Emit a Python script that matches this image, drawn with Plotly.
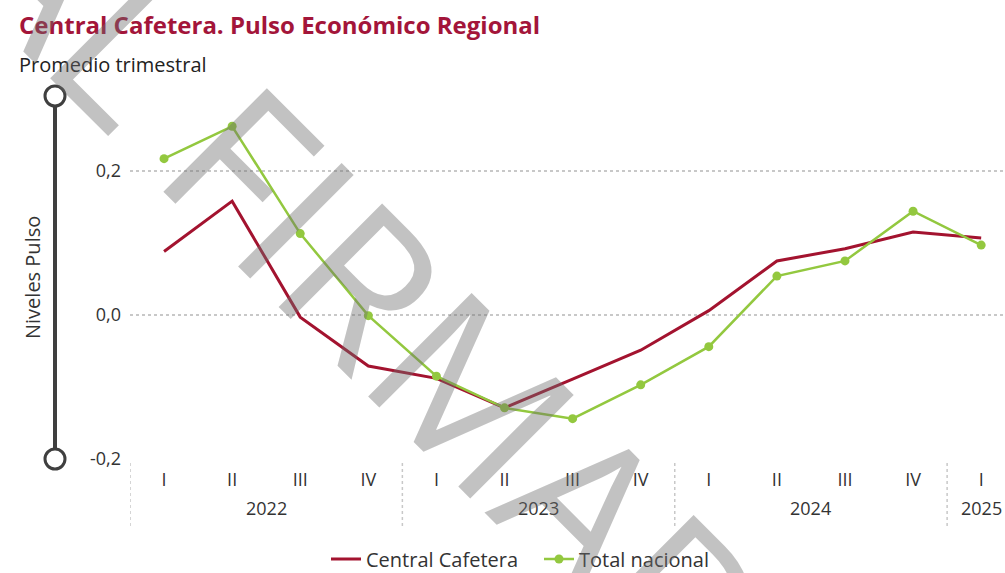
import plotly.graph_objects as go

quarters = ["I", "II", "III", "IV", "I", "II", "III", "IV", "I", "II", "III", "IV", "I"]
years = ["2022", "2023", "2024", "2025"]
year_centers = [1.5, 5.5, 9.5, 12]
year_dividers = [-0.5, 3.5, 7.5, 11.5]
central_cafetera = [0.088, 0.158, -0.003, -0.071, -0.088, -0.129, -0.089, -0.049, 0.006, 0.075, 0.092, 0.115, 0.107]
total_nacional = [0.217, 0.262, 0.113, -0.001, -0.085, -0.129, -0.144, -0.097, -0.044, 0.054, 0.075, 0.144, 0.097]
y_ticks = [-0.2, 0.0, 0.2]
y_tick_text = ["-0,2", "0,0", "0,2"]

RED = "#A3132F"
GREEN = "#93C83F"
TXT = "#333333"
FONT = "Open Sans, sans-serif"

W, H = 1005, 573
L, R, T, B = 130, 0, 96, 114
PW, PH = W - L - R, H - T - B


def px(xp):
    return (xp - L) / PW


def py(yp):
    return (H - B - yp) / PH


xs = list(range(len(quarters)))

fig = go.Figure()
fig.add_trace(go.Scatter(x=xs, y=central_cafetera, name="Central Cafetera", mode="lines",
                         line=dict(color=RED, width=3)))
fig.add_trace(go.Scatter(x=xs, y=total_nacional, name="Total nacional", mode="lines+markers",
                         line=dict(color=GREEN, width=2.5), marker=dict(color=GREEN, size=9)))

shapes = []
shapes.append(dict(type="line", xref="paper", yref="paper", x0=px(55), x1=px(55), y0=0, y1=1,
                   line=dict(color="#3f3f3f", width=4), layer="above"))
for yc in (0, 1):
    shapes.append(dict(type="circle", xref="paper", yref="paper",
                       x0=px(45), x1=px(65), y0=yc - 10 / PH, y1=yc + 10 / PH,
                       fillcolor="white", line=dict(color="#3f3f3f", width=3), layer="above"))
for xd in year_dividers:
    shapes.append(dict(type="line", xref="x", yref="paper", x0=xd, x1=xd, y0=py(463), y1=py(527),
                       line=dict(color="#c8c8c8", width=1.5, dash="dot")))

annotations = []
for yl, xc in zip(years, year_centers):
    annotations.append(dict(x=xc, y=py(508), xref="x", yref="paper", text=yl, showarrow=False,
                            font=dict(family=FONT, size=18, color=TXT), xanchor="center", yanchor="middle"))
annotations.append(dict(x=px(17), y=py(24), xref="paper", yref="paper", xanchor="left", yanchor="middle",
                        text="<b>Central Cafetera. Pulso Económico Regional</b>", showarrow=False,
                        font=dict(family=FONT, size=24, color="#A3153A")))
annotations.append(dict(x=px(17), y=py(64), xref="paper", yref="paper", xanchor="left", yanchor="middle",
                        text="Promedio trimestral", showarrow=False,
                        font=dict(family=FONT, size=20, color="#222222")))
annotations.append(dict(x=px(32), y=py(278), xref="paper", yref="paper", xanchor="center", yanchor="middle",
                        text="Niveles Pulso", textangle=-90, showarrow=False,
                        font=dict(family=FONT, size=20, color=TXT)))
# watermark
annotations.append(dict(x=px(177), y=py(92), xref="paper", yref="paper", xanchor="center", yanchor="middle",
                        text="ORIGINAL FIRMADO", textangle=45, showarrow=False,
                        font=dict(family="Open Sans, sans-serif", size=205,
                                  color="rgba(110,110,110,0.42)")))

fig.update_layout(
    width=W, height=H,
    margin=dict(l=L, r=R, t=T, b=B, autoexpand=False),
    plot_bgcolor="white", paper_bgcolor="white",
    showlegend=True,
    legend=dict(orientation="h", x=px(326), xanchor="left", y=py(559), yanchor="middle",
                font=dict(family=FONT, size=20, color=TXT), itemwidth=30, tracegroupgap=0,
                entrywidth=168, entrywidthmode="pixels",
                bgcolor="rgba(0,0,0,0)"),
    shapes=shapes,
    annotations=annotations,
    xaxis=dict(range=[-0.5, 12.35], tickmode="array", tickvals=xs, ticktext=quarters,
               showgrid=False, zeroline=False, showline=False, ticks="",
               tickfont=dict(family=FONT, size=18, color=TXT), ticklabelstandoff=8, fixedrange=True),
    yaxis=dict(range=[-0.2, 0.304], tickmode="array", tickvals=y_ticks, ticktext=y_tick_text,
               showgrid=True, gridcolor="#c8c8c8", gridwidth=1.5, griddash="dot",
               zeroline=False, showline=False, ticks="",
               tickfont=dict(family=FONT, size=18, color=TXT), ticklabelstandoff=8, fixedrange=True),
)

fig.write_html("out.html", config={"displayModeBar": False},
               post_script="document.body.style.margin='0';document.body.style.overflow='hidden';")
